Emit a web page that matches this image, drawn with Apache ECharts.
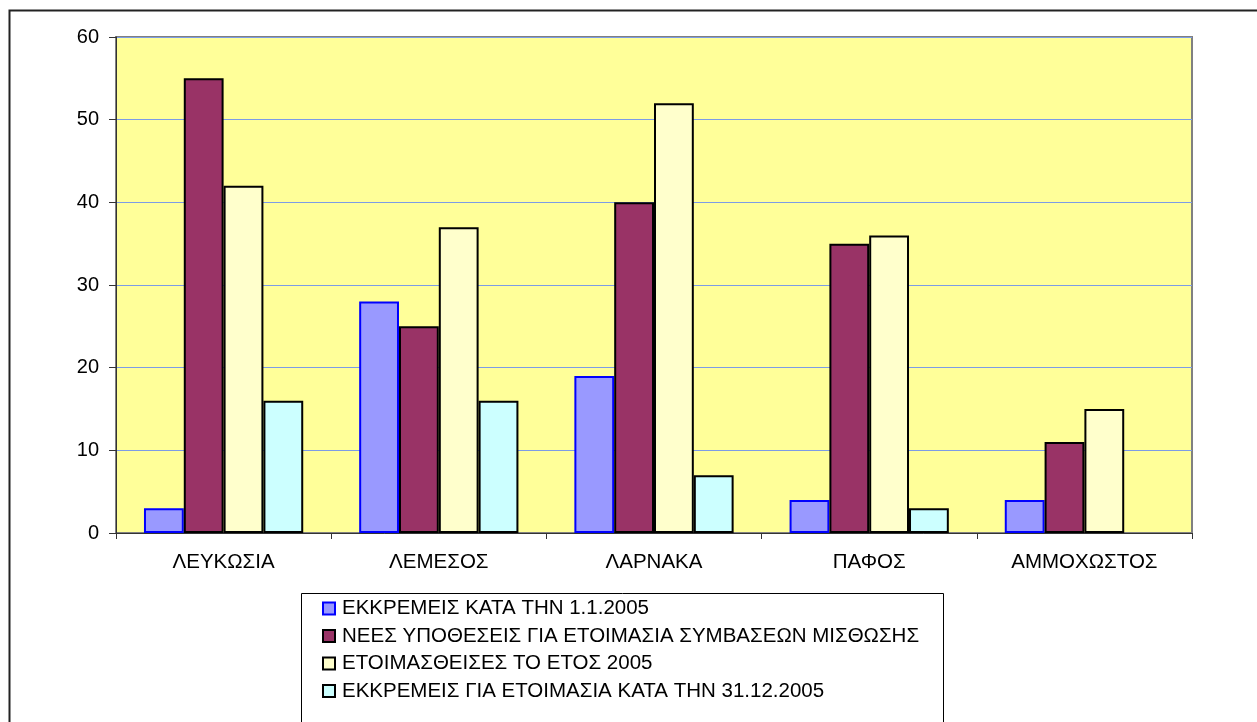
<!DOCTYPE html>
<html>
<head>
<meta charset="utf-8">
<script src="https://cdn.jsdelivr.net/npm/echarts@6/dist/echarts.min.js"></script>
<style>
html,body{margin:0;padding:0;background:#fff;}
#c{width:1257px;height:722px;}
</style>
</head>
<body>
<div id="c"></div>
<script>
var categories = ['ΛΕΥΚΩΣΙΑ', 'ΛΕΜΕΣΟΣ', 'ΛΑΡΝΑΚΑ', 'ΠΑΦΟΣ', 'ΑΜΜΟΧΩΣΤΟΣ'];
var seriesNames = [
  'ΕΚΚΡΕΜΕΙΣ ΚΑΤΑ ΤΗΝ 1.1.2005',
  'ΝΕΕΣ ΥΠΟΘΕΣΕΙΣ ΓΙΑ ΕΤΟΙΜΑΣΙΑ ΣΥΜΒΑΣΕΩΝ ΜΙΣΘΩΣΗΣ',
  'ΕΤΟΙΜΑΣΘΕΙΣΕΣ ΤΟ ΕΤΟΣ 2005',
  'ΕΚΚΡΕΜΕΙΣ ΓΙΑ ΕΤΟΙΜΑΣΙΑ ΚΑΤΑ ΤΗΝ 31.12.2005'
];
var pending2005 = [3, 28, 19, 4, 4];
var newCases = [55, 25, 40, 35, 11];
var prepared2005 = [42, 37, 52, 36, 15];
var pendingEnd2005 = [16, 16, 7, 3, null];
var yTicks = [0, 10, 20, 30, 40, 50, 60];

var fills = ['#9999FF', '#993366', '#FFFFCC', '#CCFFFF'];
var borders = ['#0000FF', '#000000', '#000000', '#000000'];
var values = [pending2005, newCases, prepared2005, pendingEnd2005];

var chart = echarts.init(document.getElementById('c'), null, {renderer: 'canvas'});
var font = '"Liberation Sans", Arial, sans-serif';

var series = values.map(function (v, i) {
  return {
    name: seriesNames[i],
    type: 'bar',
    data: v,
    barGap: '0%',
    barCategoryGap: '26%',
    itemStyle: {color: fills[i], borderColor: borders[i], borderWidth: 2},
    emphasis: {disabled: true}
  };
});

chart.setOption({
  animation: false,
  backgroundColor: '#ffffff',
  textStyle: {fontFamily: font},
  graphic: [{
    type: 'rect',
    shape: {x: 9.5, y: 10.5, width: 1400, height: 900},
    style: {fill: 'none', stroke: '#222', lineWidth: 2},
    silent: true,
    z: 100
  }, {
    type: 'rect',
    shape: {x: 301.5, y: 593.5, width: 642, height: 200},
    style: {fill: 'none', stroke: '#000', lineWidth: 1},
    silent: true,
    z: 100
  }],
  grid: {
    left: 116, top: 37, right: 65, bottom: 189,
    show: true, backgroundColor: '#FFFF99', borderColor: '#808080', borderWidth: 2
  },
  legend: {
    orient: 'vertical',
    left: 322, top: 598,
    height: 120,
    data: seriesNames,
    icon: 'rect',
    itemWidth: 12, itemHeight: 12,
    itemGap: 6.5,
    padding: 0,
    selectedMode: false,
    textStyle: {fontFamily: font, fontSize: 20.5, color: '#000', lineHeight: 20, padding: [0, 0, 0, 2]}
  },
  xAxis: {
    type: 'category',
    data: categories,
    axisLine: {lineStyle: {color: '#333', width: 1}},
    axisTick: {show: true, alignWithLabel: false, length: 6, lineStyle: {color: '#333'}},
    axisLabel: {color: '#000', fontSize: 20.5, margin: 19, fontFamily: font},
    splitLine: {show: false}
  },
  yAxis: {
    type: 'value',
    min: 0, max: 60, interval: 10,
    axisLine: {show: true, lineStyle: {color: '#333', width: 1}},
    axisTick: {show: true, length: 7, lineStyle: {color: '#333'}},
    axisLabel: {color: '#000', fontSize: 20, margin: 17, fontFamily: font,
      formatter: function (v) { return yTicks.indexOf(v) >= 0 ? String(v) : ''; }},
    splitLine: {show: true, lineStyle: {color: '#7C9CE6', width: 1}}
  },
  series: series
});
</script>
</body>
</html>
